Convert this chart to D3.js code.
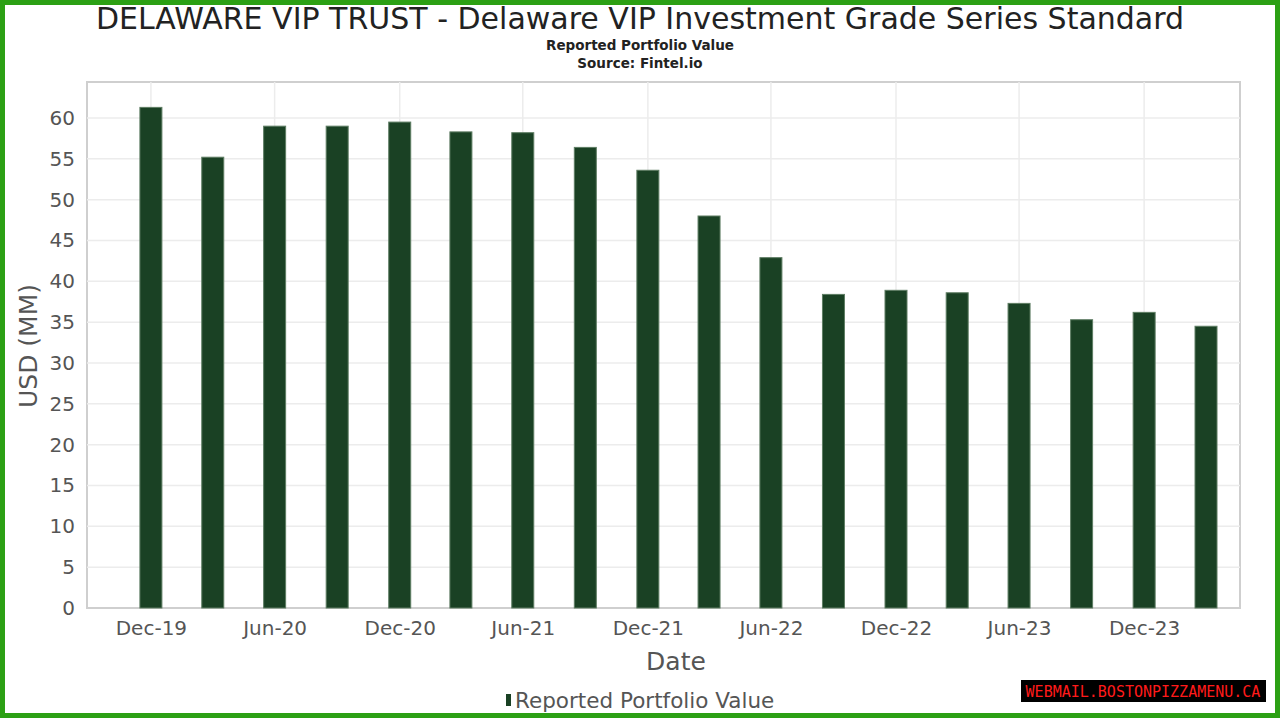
<!DOCTYPE html>
<html>
<head>
<meta charset="UTF-8">
<title>Delaware VIP Investment Grade Series Standard</title>
<script src="https://d3js.org/d3.v7.min.js"></script>
<style>
  body { margin: 0; background: #fff; }
  svg text { font-family: "DejaVu Sans", sans-serif; }
</style>
</head>
<body>
<div id="chart"></div>
<script>
// quarter-end dates and reported values (USD MM)
var dates = ["2019-12-31", "2020-03-31", "2020-06-30", "2020-09-30", "2020-12-31", "2021-03-31",
             "2021-06-30", "2021-09-30", "2021-12-31", "2022-03-31", "2022-06-30", "2022-09-30",
             "2022-12-31", "2023-03-31", "2023-06-30", "2023-09-30", "2023-12-31", "2024-03-31"];
var values = [61.3, 55.2, 59.0, 59.0, 59.5, 58.3, 58.2, 56.4, 53.6, 48.0, 42.9, 38.4,
              38.9, 38.6, 37.3, 35.3, 36.2, 34.5];
var xTicks = ["2019-12-31", "2020-06-30", "2020-12-31", "2021-06-30", "2021-12-31",
              "2022-06-30", "2022-12-31", "2023-06-30", "2023-12-31"];
var yTicks = [0, 5, 10, 15, 20, 25, 30, 35, 40, 45, 50, 55, 60];

var W = 1280, H = 718;
var parse = d3.timeParse("%Y-%m-%d");
var data = dates.map(function (d, i) { return { date: parse(d), value: values[i] }; });

var svg = d3.select("#chart").append("svg")
    .attr("width", W).attr("height", H);

// plot area
var pLeft = 87, pRight = 1240, pTop = 82, pBottom = 608;

var x = d3.scaleTime()
    .domain([parse("2019-09-28"), parse("2024-05-20")])
    .range([pLeft, pRight]);

var y = d3.scaleLinear()
    .domain([0, 60])
    .range([pBottom, 118]);

svg.append("rect")
    .attr("x", pLeft).attr("y", pTop)
    .attr("width", pRight - pLeft).attr("height", pBottom - pTop)
    .attr("fill", "#fff")
    .attr("stroke", "#cfcfcf").attr("stroke-width", 2);

// grid lines
svg.append("g").selectAll("line")
    .data(yTicks.slice(1))
    .enter().append("line")
    .attr("x1", pLeft).attr("x2", pRight)
    .attr("y1", function (d) { return y(d); })
    .attr("y2", function (d) { return y(d); })
    .attr("stroke", "#ececec").attr("stroke-width", 1.5);

svg.append("g").selectAll("line")
    .data(xTicks)
    .enter().append("line")
    .attr("x1", function (d) { return x(parse(d)); })
    .attr("x2", function (d) { return x(parse(d)); })
    .attr("y1", pTop).attr("y2", pBottom)
    .attr("stroke", "#ececec").attr("stroke-width", 1.5);

// bars
var bw = 22;
svg.append("g").selectAll("rect")
    .data(data)
    .enter().append("rect")
    .attr("x", function (d) { return x(d.date) - bw / 2; })
    .attr("y", function (d) { return y(d.value); })
    .attr("width", bw)
    .attr("height", function (d) { return y(0) - y(d.value); })
    .attr("fill", "#1a4124")
    .attr("stroke", "#5e7d63").attr("stroke-width", 1);

// y axis
var yAxis = svg.append("g")
    .attr("transform", "translate(" + pLeft + ",0)")
    .call(d3.axisLeft(y).tickValues(yTicks).tickSize(0).tickPadding(12));
yAxis.select(".domain").remove();
yAxis.selectAll("text")
    .attr("font-size", 20).attr("fill", "#555")
    .style("font-family", "DejaVu Sans, sans-serif");

// x axis
var fmt = d3.timeFormat("%b-%y");
var xAxis = svg.append("g")
    .attr("transform", "translate(0," + pBottom + ")")
    .call(d3.axisBottom(x).tickValues(xTicks.map(parse)).tickFormat(fmt).tickSize(0).tickPadding(13));
xAxis.select(".domain").remove();
xAxis.selectAll("text")
    .attr("font-size", 20).attr("fill", "#555")
    .style("font-family", "DejaVu Sans, sans-serif");

// titles
svg.append("text")
    .attr("x", 640).attr("y", 29)
    .attr("text-anchor", "middle")
    .attr("font-size", 30).attr("fill", "#222")
    .text("DELAWARE VIP TRUST - Delaware VIP Investment Grade Series Standard");

svg.append("text")
    .attr("x", 640).attr("y", 50)
    .attr("text-anchor", "middle")
    .attr("font-size", 13.5).attr("font-weight", "bold").attr("fill", "#222")
    .text("Reported Portfolio Value");

svg.append("text")
    .attr("x", 640).attr("y", 68)
    .attr("text-anchor", "middle")
    .attr("font-size", 13.5).attr("font-weight", "bold").attr("fill", "#222")
    .text("Source: Fintel.io");

// axis labels
svg.append("text")
    .attr("transform", "translate(37,346) rotate(-90)")
    .attr("text-anchor", "middle")
    .attr("font-size", 25).attr("fill", "#555")
    .text("USD (MM)");

svg.append("text")
    .attr("x", 676).attr("y", 670)
    .attr("text-anchor", "middle")
    .attr("font-size", 25).attr("fill", "#555")
    .text("Date");

// legend
svg.append("rect")
    .attr("x", 506).attr("y", 694).attr("width", 5).attr("height", 12)
    .attr("fill", "#1a4124");
svg.append("text")
    .attr("x", 515).attr("y", 708)
    .attr("font-size", 21.5).attr("fill", "#555")
    .text("Reported Portfolio Value");

// watermark
svg.append("rect")
    .attr("x", 1021).attr("y", 680).attr("width", 245).attr("height", 22)
    .attr("fill", "#000");
svg.append("text")
    .attr("x", 1143).attr("y", 697)
    .attr("text-anchor", "middle")
    .attr("font-size", 15).attr("fill", "#ff1a1a")
    .style("font-family", "DejaVu Sans Mono, monospace")
    .text("WEBMAIL.BOSTONPIZZAMENU.CA");

// outer green frame
svg.append("rect")
    .attr("x", 2.5).attr("y", 2.5).attr("width", W - 5).attr("height", H - 5)
    .attr("fill", "none").attr("stroke", "#2ca014").attr("stroke-width", 5);
</script>
</body>
</html>
